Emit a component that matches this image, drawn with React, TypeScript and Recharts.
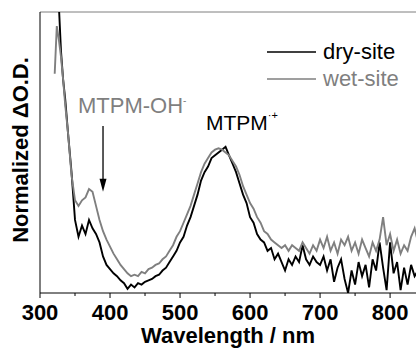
import { LineChart, Line, XAxis, YAxis, ReferenceLine, ReferenceDot } from 'recharts'

const wavelengths = [
  321, 324, 327, 330, 333, 336, 340, 345, 350, 355, 360, 365, 370, 375, 380, 385, 390, 395,
  400, 405, 410, 415, 420, 425, 430, 435, 440, 445, 450, 455, 460, 465, 470, 475, 480, 485,
  490, 495, 500, 505, 510, 515, 520, 525, 530, 535, 540, 545, 550, 555, 560, 565, 570, 575,
  580, 585, 590, 595, 600, 605, 610, 615, 620, 625, 630, 635, 640, 645, 650, 655, 660, 665,
  670, 675, 680, 685, 690, 695, 700, 705, 710, 715, 720, 725, 730, 735, 740, 745, 750, 755,
  760, 765, 770, 775, 780, 785, 790, 795, 800, 805, 810, 815, 820, 825, 830, 835, 840,
]

const drySite = [
  null, 1.05, 1.02, 0.86, 0.76, 0.69, 0.57, 0.43, 0.26, 0.2, 0.24, 0.21, 0.26, 0.23, 0.21, 0.18, 0.13, 0.1,
  0.085, 0.07, 0.06, 0.045, 0.035, 0.015, 0.03, 0.02, 0.035, 0.03, 0.04, 0.045, 0.05, 0.06, 0.065, 0.08, 0.09, 0.11,
  0.13, 0.15, 0.18, 0.2, 0.24, 0.27, 0.31, 0.35, 0.4, 0.43, 0.45, 0.48, 0.49, 0.5, 0.51, 0.52, 0.49, 0.46,
  0.43, 0.39, 0.35, 0.32, 0.27, 0.25, 0.21, 0.19, 0.18, 0.15, 0.16, 0.12, 0.14, 0.11, 0.08, 0.12, 0.1, 0.13,
  0.11, 0.17, 0.12, 0.1, 0.13, 0.11, 0.1, 0.13, 0.08, 0.12, 0.04, 0.09, 0.12, 0.05, 0.0, 0.08, 0.03, 0.11,
  0.06, 0.1, 0.02, 0.12, 0.08, 0.18, 0.09, 0.01, 0.18, 0.07, 0.11, 0.01, 0.09, 0.03, 0.1, 0.06, 0.08,
]

const wetSite = [
  0.78, 0.95, 0.9, 0.84, 0.76, 0.67, 0.57, 0.42, 0.33, 0.31, 0.33, 0.34, 0.37, 0.36, 0.31, 0.26, 0.22, 0.19,
  0.165, 0.14, 0.12, 0.1, 0.085, 0.07, 0.06, 0.065, 0.06, 0.075, 0.07, 0.085, 0.09, 0.1, 0.105, 0.12, 0.13, 0.15,
  0.17, 0.2, 0.22, 0.25, 0.28, 0.31, 0.35, 0.39, 0.43, 0.46, 0.48, 0.5, 0.51, 0.515, 0.51, 0.5, 0.49, 0.47,
  0.45, 0.42, 0.38, 0.35, 0.32, 0.3, 0.27, 0.25, 0.22, 0.21, 0.19, 0.18, 0.17, 0.16, 0.17, 0.15, 0.17, 0.16,
  0.15, 0.18, 0.16, 0.14, 0.17, 0.15, 0.19, 0.16, 0.2, 0.15, 0.18, 0.14, 0.19, 0.17, 0.2, 0.15, 0.18, 0.14,
  0.19, 0.16, 0.13, 0.18, 0.15, 0.19, 0.27, 0.17, 0.21, 0.15, 0.19, 0.14, 0.17, 0.15, 0.2, 0.23, 0.18,
]

const xTicks = [300, 350, 400, 450, 500, 550, 600, 650, 700, 750, 800]

const data = wavelengths.map((nm, i) => ({ nm, dry: drySite[i], wet: wetSite[i] }))

const FONT = '"Liberation Sans", Arial, sans-serif'
const GRAY = '#7f7f7f'

function WavelengthTick({ x, y, payload }: any) {
  const major = payload.value % 100 === 0
  return (
    <g>
      <line x1={x} x2={x} y1={y} y2={y + (major ? 5 : 3)} stroke="#000" strokeWidth={1} />
      {major && (
        <text x={x} y={y + 27} textAnchor="middle" fontFamily={FONT} fontWeight="bold" fontSize={22} fill="#000">
          {payload.value}
        </text>
      )}
    </g>
  )
}

// little down-pointing arrowhead, tip at (cx, cy)
function ArrowHead({ cx, cy }: any) {
  return <path d={`M${cx - 3.5},${cy - 13} L${cx + 3.5},${cy - 13} L${cx},${cy} Z`} fill="#000" />
}

export default function App() {
  return (
    <div style={{ position: 'absolute', left: 0, top: 0, background: '#fff' }}>
      <LineChart width={416} height={350} data={data} margin={{ top: 12, right: 0, left: 0, bottom: 0 }}>
        <XAxis
          dataKey="nm"
          type="number"
          domain={[300, 837]}
          allowDataOverflow
          ticks={xTicks}
          interval={0}
          height={57}
          tickSize={0}
          tickMargin={0}
          tickLine={false}
          tick={<WavelengthTick />}
          axisLine={{ stroke: '#000', strokeWidth: 1 }}
        />
        <YAxis
          type="number"
          domain={[0, 1]}
          allowDataOverflow
          width={40}
          tick={false}
          tickLine={false}
          axisLine={{ stroke: '#000', strokeWidth: 1 }}
        />
        <ReferenceLine y={1} stroke={GRAY} strokeWidth={1} />
        <Line dataKey="dry" stroke="#000" strokeWidth={1.9} dot={false} isAnimationActive={false} type="linear" />
        <Line dataKey="wet" stroke={GRAY} strokeWidth={1.9} dot={false} isAnimationActive={false} type="linear" />
        <ReferenceLine
          segment={[
            { x: 390, y: 0.594 },
            { x: 390, y: 0.4 },
          ]}
          stroke="#000"
          strokeWidth={1.3}
        />
        <ReferenceDot x={390} y={0.36} r={0} shape={<ArrowHead />} />

        <text x={28} y={150} transform="rotate(-90, 28, 150)" textAnchor="middle" fontFamily={FONT} fontWeight="bold" fontSize={22} fill="#000">
          Normalized ΔO.D.
        </text>
        <text x={228} y={343} textAnchor="middle" fontFamily={FONT} fontWeight="bold" fontSize={22} fill="#000">
          Wavelength / nm
        </text>

        <line x1={267} x2={316} y1={52} y2={52} stroke="#000" strokeWidth={1.5} />
        <text x={323} y={59} fontFamily={FONT} fontSize={22} fill="#000">dry-site</text>
        <line x1={267} x2={316} y1={79} y2={79} stroke={GRAY} strokeWidth={1.5} />
        <text x={323} y={86} fontFamily={FONT} fontSize={22} fill={GRAY}>wet-site</text>

        <text x={78} y={113} fontFamily={FONT} fontSize={22} fill={GRAY}>
          MTPM-OH<tspan dy={-9} fontSize={10}>-</tspan>
        </text>
        <text x={206} y={130} fontFamily={FONT} fontSize={21} fill="#000">
          MTPM<tspan dy={-11} fontSize={11}>·+</tspan>
        </text>
      </LineChart>
    </div>
  )
}
